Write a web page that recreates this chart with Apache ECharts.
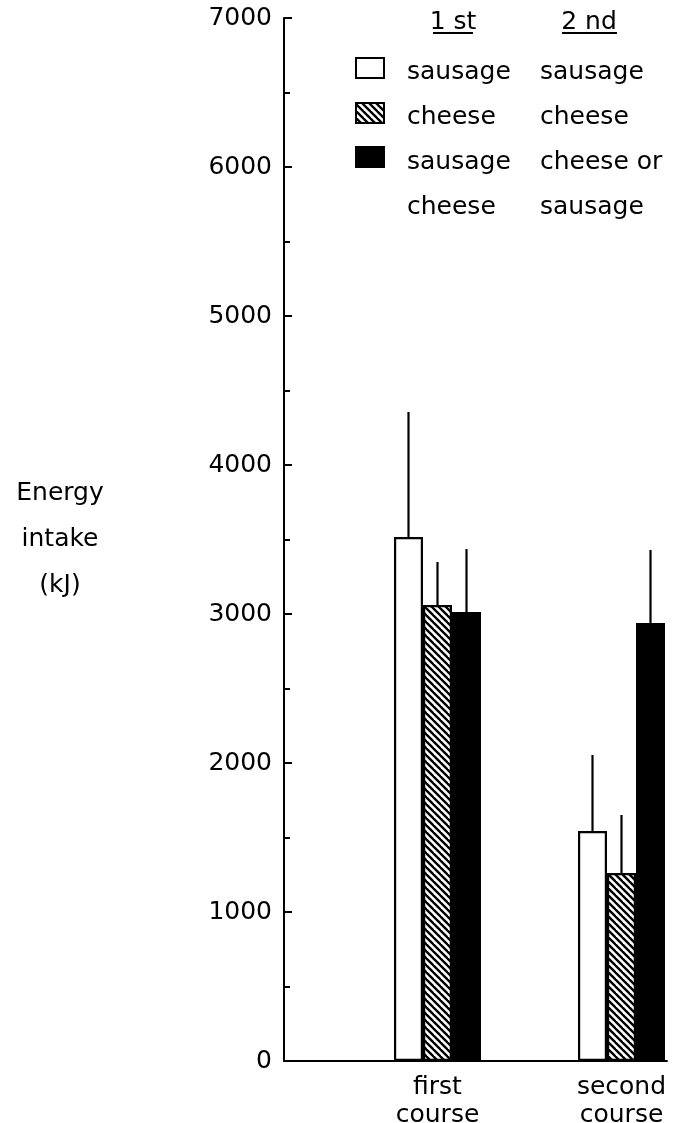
<!DOCTYPE html>
<html>
<head>
<meta charset="utf-8">
<script src="https://cdn.jsdelivr.net/npm/echarts@6/dist/echarts.min.js"></script>
<style>html,body{margin:0;padding:0;background:#fff}#c{width:675px;height:1123px}</style>
</head>
<body>
<div id="c"></div>
<script>
// ---- data ----
const categories = ['first\ncourse', 'second\ncourse'];
const sausageMean = [3517, 1544];
const sausageUpper = [4356, 2054];
const cheeseMean = [3060, 1262];
const cheeseUpper = [3349, 1651];
const mixedMean = [3013, 2940];
const mixedUpper = [3436, 3430];
const yTicks = [0, 1000, 2000, 3000, 4000, 5000, 6000, 7000];
const legendHeaders = ['1 st', '2 nd'];
const legendFirst = ['sausage', 'cheese', 'sausage', 'cheese'];
const legendSecond = ['sausage', 'cheese', 'cheese or', 'sausage'];
const yTitle = 'Energy\nintake\n(kJ)';

// ---- styling ----
const FONT = 'DejaVu Sans';
const FS = 25;
const BAR_W = 29;

const T = 7;
const pc = document.createElement('canvas');
pc.width = T; pc.height = T;
const g = pc.getContext('2d');
g.fillStyle = '#fff'; g.fillRect(0, 0, T, T);
g.strokeStyle = '#000'; g.lineWidth = 2.4;
[[-T, -T, 2 * T, 2 * T], [-2 * T, -T, T, 2 * T], [0, -T, 3 * T, 2 * T]].forEach(s => {
  g.beginPath(); g.moveTo(s[0], s[1]); g.lineTo(s[2], s[3]); g.stroke();
});
const hatch = { image: pc, repeat: 'repeat' };

function barSeries(name, data, fill) {
  return {
    name, type: 'bar', xAxisIndex: 1, yAxisIndex: 1, data,
    barWidth: BAR_W, barGap: '0%',
    itemStyle: { color: fill, borderColor: '#000', borderWidth: 2.2 },
    silent: true
  };
}
function errSeries(mean, upper, offsetIdx) {
  return {
    type: 'custom', xAxisIndex: 1, yAxisIndex: 1, silent: true, z: 5,
    data: mean.map((m, i) => [i, m, upper[i]]),
    renderItem(params, api) {
      const p0 = api.coord([api.value(0), api.value(1)]);
      const p1 = api.coord([api.value(0), api.value(2)]);
      const x = p0[0] + offsetIdx * BAR_W;
      return { type: 'line', shape: { x1: x, y1: p0[1], x2: x, y2: p1[1] },
               style: { stroke: '#000', lineWidth: 2.2 } };
    }
  };
}

const textStyle = { fontFamily: FONT, fontSize: FS, fill: '#000' };
const graphics = [];
const headerX = [453, 589];
const underline = [[433, 473], [562, 617]];
legendHeaders.forEach((t, i) => {
  graphics.push({ type: 'text', x: headerX[i], y: 22,
    style: Object.assign({ text: t, textAlign: 'center', textVerticalAlign: 'middle' }, textStyle) });
  graphics.push({ type: 'line', shape: { x1: underline[i][0], y1: 33, x2: underline[i][1], y2: 33 },
    style: { stroke: '#000', lineWidth: 2 } });
});
const rowY = [72, 117, 162, 207];
legendFirst.forEach((t, i) => {
  graphics.push({ type: 'text', x: 407, y: rowY[i],
    style: Object.assign({ text: t, textVerticalAlign: 'middle' }, textStyle) });
});
legendSecond.forEach((t, i) => {
  graphics.push({ type: 'text', x: 540, y: rowY[i],
    style: Object.assign({ text: t, textVerticalAlign: 'middle' }, textStyle) });
});
const iconFills = ['#fff', hatch, '#000'];
const iconY = [58, 103, 147];
iconFills.forEach((f, i) => {
  graphics.push({ type: 'rect', shape: { x: 356, y: iconY[i], width: 28, height: 20 },
    style: { fill: f, stroke: '#000', lineWidth: 2 } });
});

const chart = echarts.init(document.getElementById('c'), null, { renderer: 'canvas' });
chart.setOption({
  backgroundColor: '#fff',
  animation: false,
  grid: [
    { left: 284, right: 8, top: 18, bottom: 62, outerBoundsMode: 'none', containLabel: false },
    { left: 345.5, width: 368, top: 18, bottom: 62, outerBoundsMode: 'none', containLabel: false }
  ],
  xAxis: [
    { type: 'value', gridIndex: 0, min: 0, max: 1,
      axisLine: { show: true, lineStyle: { color: '#000', width: 2 } },
      axisTick: { show: false }, axisLabel: { show: false }, splitLine: { show: false } },
    { type: 'category', gridIndex: 1, data: categories,
      axisLine: { show: false }, axisTick: { show: false },
      axisLabel: { fontFamily: FONT, fontSize: FS, color: '#000', lineHeight: 28, margin: 12 } }
  ],
  yAxis: [
    { type: 'value', gridIndex: 0, min: yTicks[0], max: yTicks[yTicks.length - 1], interval: 1000,
      axisLine: { show: true, lineStyle: { color: '#000', width: 2 } },
      axisTick: { show: true, inside: true, length: 8, lineStyle: { color: '#000', width: 2 } },
      minorTick: { show: true, splitNumber: 2, length: 6, lineStyle: { color: '#000', width: 2 } },
      axisLabel: { fontFamily: FONT, fontSize: FS, color: '#000', margin: 12,
                   formatter: v => String(v) },
      splitLine: { show: false },
      name: yTitle, nameLocation: 'middle', nameRotate: 0, nameGap: 224,
      nameTextStyle: { fontFamily: FONT, fontSize: FS, color: '#000', align: 'center', lineHeight: 46 } },
    { type: 'value', gridIndex: 1, min: 0, max: 7000, show: false }
  ],
  series: [
    barSeries('sausage', sausageMean, '#fff'),
    barSeries('cheese', cheeseMean, hatch),
    barSeries('mixed', mixedMean, '#000'),
    errSeries(sausageMean, sausageUpper, -1),
    errSeries(cheeseMean, cheeseUpper, 0),
    errSeries(mixedMean, mixedUpper, 1)
  ],
  graphic: graphics
});
</script>
</body>
</html>
